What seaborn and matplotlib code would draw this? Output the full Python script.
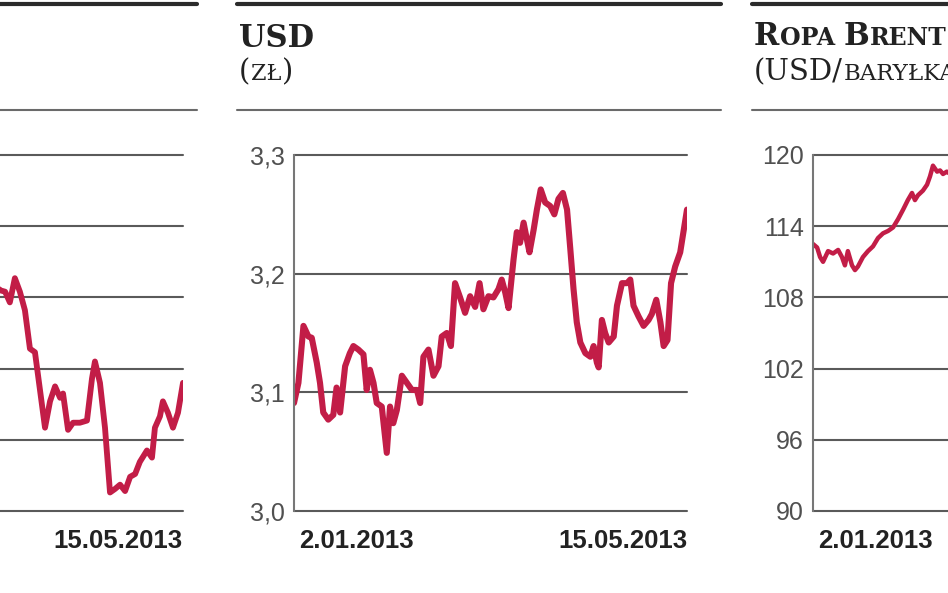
"""Three small market panels: left index (cropped), USD/PLN, Brent (cropped)."""

import matplotlib

matplotlib.use("Agg")

import matplotlib.pyplot as plt
import matplotlib.transforms as mtransforms
import pandas as pd
import seaborn as sns
from matplotlib.lines import Line2D

W, H = 948, 593

RED = "#C21D47"
INK = "#222222"
GRID = "#5a5a5a"
TICK_GREY = "#505050"
SERIF = ["DejaVu Serif"]
SANS = ["Liberation Sans", "DejaVu Sans"]

# x = days since 2.01.2013
date_ticks = [0, 133]
date_labels = ["2.01.2013", "15.05.2013"]

# left panel (only its right part is visible)
left_days = [70.0, 71.1, 72.8, 74.4, 76.1, 77.8, 79.5, 81.2, 82.9, 84.6, 86.3, 88.0, 89.7,
             91.4, 92.4, 94.1, 95.8, 98.1, 100.5, 102.2, 103.2, 104.9, 106.6, 108.3, 110.0,
             111.7, 113.4, 115.1, 116.8, 118.4, 120.8, 122.5, 123.5, 125.2, 126.2, 127.9,
             129.6, 131.3, 133.0]
left_values = [2415, 2410, 2408, 2393, 2427, 2408, 2382, 2328, 2323, 2270, 2217, 2254, 2275,
               2259, 2265, 2214, 2224, 2224, 2227, 2286, 2310, 2280, 2217, 2126, 2131, 2137,
               2128, 2148, 2152, 2169, 2185, 2175, 2217, 2233, 2254, 2238, 2217, 2238, 2280]
left_ticks = [2100, 2200, 2300, 2400, 2500, 2600]
left_tick_labels = ["2100", "2200", "2300", "2400", "2500", "2600"]

# USD/PLN
usd_days = [0, 1.5, 3.2, 4.9, 6.0, 7.7, 8.8, 9.9, 11.6, 13.3, 14.4, 15.6, 17.3, 18.9, 20.1,
            21.8, 23.5, 24.6, 25.7, 26.9, 28.0, 29.7, 31.4, 32.5, 33.6, 34.8, 36.5, 38.2,
            39.9, 41.6, 42.7, 43.8, 45.5, 47.2, 48.9, 50.0, 51.7, 53.1, 54.5, 56.2, 57.9,
            59.6, 61.3, 62.8, 64.1, 65.8, 67.5, 69.2, 70.3, 71.5, 72.6, 74.3, 75.4, 76.5,
            77.7, 78.8, 79.7, 81.1, 82.2, 83.5, 85.0, 86.7, 88.1, 89.5, 91.0, 92.4, 93.5,
            94.6, 95.7, 96.9, 98.6, 100.3, 101.4, 102.5, 103.1, 104.2, 105.3, 106.5, 108.2,
            109.3, 111.0, 112.7, 113.8, 114.9, 116.6, 118.3, 120.0, 121.1, 122.6, 124.0,
            125.1, 126.4, 127.6, 129.0, 130.7, 133.0]
usd_values = [3.091, 3.108, 3.156, 3.147, 3.146, 3.125, 3.108, 3.083, 3.077, 3.081, 3.104,
              3.083, 3.122, 3.133, 3.139, 3.136, 3.132, 3.102, 3.119, 3.108, 3.091, 3.088,
              3.049, 3.088, 3.074, 3.085, 3.114, 3.108, 3.102, 3.102, 3.091, 3.130, 3.136,
              3.114, 3.122, 3.147, 3.150, 3.139, 3.192, 3.180, 3.167, 3.181, 3.172, 3.192,
              3.170, 3.181, 3.180, 3.187, 3.195, 3.184, 3.171, 3.212, 3.235, 3.226, 3.243,
              3.229, 3.218, 3.237, 3.254, 3.271, 3.260, 3.257, 3.250, 3.263, 3.268, 3.254,
              3.221, 3.187, 3.159, 3.142, 3.133, 3.130, 3.139, 3.125, 3.121, 3.161, 3.150,
              3.142, 3.147, 3.173, 3.192, 3.192, 3.195, 3.173, 3.164, 3.156, 3.161, 3.166,
              3.178, 3.159, 3.139, 3.144, 3.192, 3.206, 3.218, 3.254]
usd_ticks = [3.0, 3.1, 3.2, 3.3]
usd_tick_labels = ["3,0", "3,1", "3,2", "3,3"]

# Brent (only its left part is visible)
brent_days = [0, 1.4, 2.4, 3.4, 5.1, 6.8, 8.5, 9.8, 10.8, 11.8, 13.2, 14.2, 15.2, 16.9, 18.6,
              20.3, 22.0, 23.7, 25.4, 27.1, 28.8, 30.5, 32.1, 33.5, 34.5, 35.5, 37.2, 38.6,
              39.6, 40.6, 42.0, 43.0, 44.0, 45.3, 47.0]
brent_values = [112.5, 112.2, 111.4, 111.0, 111.9, 111.7, 112.0, 111.4, 110.7, 111.9, 110.7,
                110.3, 110.6, 111.4, 111.9, 112.3, 113.0, 113.4, 113.6, 113.9, 114.6, 115.4,
                116.2, 116.8, 116.2, 116.6, 117.0, 117.5, 118.2, 119.1, 118.6, 118.7, 118.4,
                118.6, 118.3]
brent_ticks = [90, 96, 102, 108, 114, 120]
brent_tick_labels = ["90", "96", "102", "108", "114", "120"]


def px_box(x0, top, x1, bottom):
    return [x0 / W, (H - bottom) / H, (x1 - x0) / W, (bottom - top) / H]


def panel(fig, rect, days, values, ticks, tick_labels, lw, show_y=True,
          show_first=True, show_last=True):
    ax = fig.add_axes(rect)
    df = pd.DataFrame({"day": days, "value": values})
    sns.lineplot(data=df, x="day", y="value", ax=ax, color=RED, linewidth=lw,
                 solid_joinstyle="round", solid_capstyle="round")
    ax.set_xlim(date_ticks[0], date_ticks[-1])
    ax.set_ylim(ticks[0], ticks[-1])
    ax.set_yticks(ticks, tick_labels)
    ax.set_xticks(date_ticks, date_labels)
    ax.set_xlabel("")
    ax.set_ylabel("")
    ax.set_facecolor("none")
    ax.set_axisbelow(True)
    ax.grid(axis="y", color=GRID, linewidth=1.5)
    ax.grid(axis="x", visible=False)
    for line in ax.get_ygridlines():
        line.set_clip_on(False)
    ax.spines[["top", "right", "bottom"]].set_visible(False)
    ax.spines["left"].set_color("#777777")
    ax.spines["left"].set_linewidth(1.5)
    ax.tick_params(axis="y", length=0, pad=6.5, labelsize=18, labelcolor=TICK_GREY,
                   labelleft=show_y)
    ax.tick_params(axis="x", length=0, pad=13, labelsize=18.5, labelcolor=INK)
    xl = ax.get_xticklabels()
    xl[0].set_ha("left")
    xl[0].set_transform(xl[0].get_transform()
                        + mtransforms.ScaledTranslation(5 / 100, 0, fig.dpi_scale_trans))
    xl[-1].set_ha("right")
    xl[0].set_visible(show_first)
    xl[-1].set_visible(show_last)
    for lab in xl:
        lab.set_weight("bold")
    return ax


def rule(fig, x0, x1, y, lw, color):
    fig.add_artist(Line2D([x0 / W, x1 / W], [1 - y / H, 1 - y / H], lw=lw, color=color,
                          transform=fig.transFigure))


def caps_text(fig, x, y, parts, weight):
    """Draw pieces one after another (fake small caps)."""
    renderer = fig.canvas.get_renderer()
    xf = x / W
    for s, size in parts:
        if s == " ":
            xf += 8 / W
            continue
        t = fig.text(xf, 1 - y / H, s, fontsize=size, weight=weight, family=SERIF,
                     va="baseline", ha="left", color=INK)
        bb = t.get_window_extent(renderer)
        xf = bb.x1 / W + 0.5 / W


def main():
    sns.set_theme(style="white")
    plt.rcParams["font.family"] = SANS
    fig = plt.figure(figsize=(W / 100, H / 100), dpi=100)
    fig.patch.set_facecolor("white")

    panel(fig, px_box(-210, 155, 183, 511), left_days, left_values,
          left_ticks, left_tick_labels, 4.2, show_y=False, show_first=False)
    panel(fig, px_box(294, 155, 687, 511), usd_days, usd_values,
          usd_ticks, usd_tick_labels, 4.4)
    panel(fig, px_box(813, 155, 1206, 511), brent_days, brent_values,
          brent_ticks, brent_tick_labels, 3.2, show_last=False)

    for x0, x1 in [(0, 197), (237, 721), (752, 948)]:
        rule(fig, x0, x1, 4, 3.0, "#2b2b2b")
        rule(fig, x0, x1, 110, 1.5, "#6a6a6a")

    caps_text(fig, 239, 47, [("USD", 22)], "bold")
    caps_text(fig, 239, 80, [("(", 21), ("ZŁ", 16), (")", 21)], "normal")
    caps_text(fig, 754, 45, [("R", 22), ("OPA", 17), (" ", 0), ("B", 22),
                             ("RENT", 17)], "bold")
    caps_text(fig, 754, 80, [("(USD/", 21), ("BARYŁKA", 16.5), (")", 21)], "normal")

    fig.savefig("out.png", dpi=100, facecolor="white")


if __name__ == "__main__":
    main()
